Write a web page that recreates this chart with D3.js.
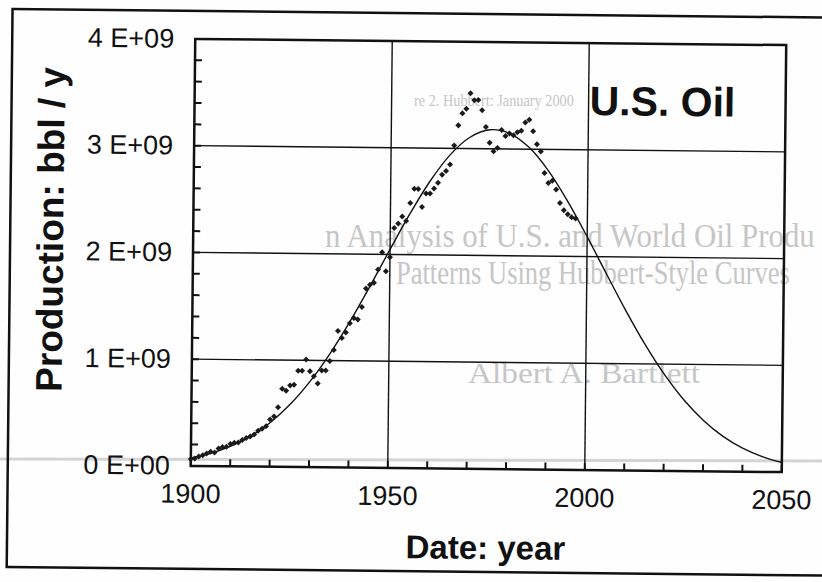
<!DOCTYPE html>
<html>
<head>
<meta charset="utf-8">
<script src="https://cdn.jsdelivr.net/npm/d3@7"></script>
<style>
  body { margin: 0; background: #fff; }
  svg { display: block; }
</style>
</head>
<body>
<div id="chart"></div>
<script>
// production, bbl per year (in billions), one value per year from firstYear
const firstYear = 1900;
const production = [
  0.064, 0.069, 0.089, 0.101, 0.117, 0.135, 0.127, 0.166, 0.179, 0.183,
  0.210, 0.220, 0.223, 0.248, 0.266, 0.281, 0.301, 0.335, 0.356, 0.378,
  0.443, 0.472, 0.558, 0.732, 0.714, 0.764, 0.771, 0.901, 0.902, 1.007,
  0.898, 0.851, 0.785, 0.906, 0.908, 0.997, 1.100, 1.279, 1.214, 1.265,
  1.353, 1.402, 1.387, 1.506, 1.678, 1.714, 1.734, 1.857, 2.020, 1.842,
  1.974, 2.248, 2.290, 2.357, 2.315, 2.484, 2.617, 2.617, 2.449, 2.575,
  2.575, 2.622, 2.676, 2.753, 2.787, 2.849, 3.028, 3.216, 3.329, 3.372,
  3.518, 3.454, 3.455, 3.361, 3.203, 3.057, 2.976, 3.009, 3.178, 3.121,
  3.146, 3.129, 3.157, 3.171, 3.250, 3.275, 3.168, 3.047, 2.979, 2.779,
  2.685, 2.707, 2.625, 2.499, 2.432, 2.394, 2.366, 2.355
];

// fitted Hubbert-style curve, read every 5 years
const curveYears = [1900, 1905, 1910, 1915, 1920, 1925, 1930, 1935, 1940, 1945,
  1950, 1955, 1960, 1965, 1970, 1975, 1980, 1985, 1990, 1995,
  2000, 2005, 2010, 2015, 2020, 2025, 2030, 2035, 2040, 2045, 2050];
const curveValues = [0.074, 0.119, 0.186, 0.281, 0.412, 0.584, 0.801, 1.064, 1.367, 1.700,
  2.047, 2.386, 2.692, 2.939, 3.106, 3.178, 3.147, 3.017, 2.799, 2.513,
  2.185, 1.838, 1.497, 1.180, 0.901, 0.665, 0.476, 0.329, 0.220, 0.143, 0.090];

const xTickLabels = [1900, 1950, 2000, 2050];
const yTickLabels = ["0 E+00", "1 E+09", "2 E+09", "3 E+09", "4 E+09"];

const W = 822, H = 582;
const plot = {left: 193, right: 784, top: 42, bottom: 469};

const svg = d3.select("#chart").append("svg")
  .attr("width", W)
  .attr("height", H);

svg.append("rect").attr("width", W).attr("height", H).attr("fill", "#fefefe");

// faint print showing through from the page underneath (narrow serif)
const ghost = svg.append("g").attr("font-family", "Liberation Serif").attr("fill", "#c6c6c6");
function ghostText(txt, x0, y0, size, width) {
  const t = ghost.append("text").attr("font-size", size).text(txt);
  const k = width / t.node().getComputedTextLength();
  t.attr("transform", `translate(${x0},${y0}) scale(${k},1)`);
}
ghostText("n Analysis of U.S. and World Oil Produ", 325, 247, 33, 490);
ghostText("Patterns Using Hubbert-Style Curves", 396, 284, 33, 394);
ghostText("Albert A. Bartlett", 468, 383, 29, 232);
ghostText("re 2. Hubbert: January 2000", 414, 106, 17, 160);
svg.append("line").attr("x1", 0).attr("x2", W).attr("y1", 459).attr("y2", 461)
  .attr("stroke", "#d4d4d4").attr("stroke-width", 3);

// everything of the figure sits slightly tilted, as on the scanned page
const g = svg.append("g").attr("transform", "rotate(0.6, 488, 255)");

// outer frame
g.append("rect")
  .attr("x", 10).attr("y", 14)
  .attr("width", 840).attr("height", 558)
  .attr("fill", "none").attr("stroke", "#111").attr("stroke-width", 2.5);

const x = d3.scaleLinear().domain([1900, 2050]).range([plot.left, plot.right]);
const y = d3.scaleLinear().domain([0, 4e9]).range([plot.bottom, plot.top]);

// grid lines
g.append("g").selectAll("line")
  .data([1950, 2000]).join("line")
  .attr("x1", d => x(d)).attr("x2", d => x(d))
  .attr("y1", plot.top).attr("y2", plot.bottom)
  .attr("stroke", "#111").attr("stroke-width", 1.4);
g.append("g").selectAll("line")
  .data([1e9, 2e9, 3e9]).join("line")
  .attr("x1", plot.left).attr("x2", plot.right)
  .attr("y1", d => y(d)).attr("y2", d => y(d))
  .attr("stroke", "#111").attr("stroke-width", 1.4);

// inward minor ticks
g.append("g").selectAll("line")
  .data(d3.range(0, 4e9 + 1, 2e8)).join("line")
  .attr("x1", plot.left).attr("x2", plot.left + 7)
  .attr("y1", d => y(d)).attr("y2", d => y(d))
  .attr("stroke", "#111").attr("stroke-width", 2);
g.append("g").selectAll("line")
  .data(d3.range(1900, 2051, 10)).join("line")
  .attr("x1", d => x(d)).attr("x2", d => x(d))
  .attr("y1", plot.bottom).attr("y2", plot.bottom - 7)
  .attr("stroke", "#111").attr("stroke-width", 2);

// plot frame
g.append("rect")
  .attr("x", plot.left).attr("y", plot.top)
  .attr("width", plot.right - plot.left).attr("height", plot.bottom - plot.top)
  .attr("fill", "none").attr("stroke", "#111").attr("stroke-width", 2.5);

// tick labels
g.append("g").selectAll("text")
  .data(yTickLabels).join("text")
  .attr("x", 172)
  .attr("y", (d, i) => y(i * 1e9) + 9)
  .attr("text-anchor", "end")
  .style("font-family", "Liberation Sans")
  .style("font-size", "27px")
  .style("fill", "#111")
  .text(d => d);
g.append("g").selectAll("text")
  .data(xTickLabels).join("text")
  .attr("x", d => x(d))
  .attr("y", 506)
  .attr("text-anchor", "middle")
  .style("font-family", "Liberation Sans")
  .style("font-size", "27px")
  .style("fill", "#111")
  .text(d => d);

// axis titles
g.append("text")
  .attr("x", x(1975))
  .attr("y", 559)
  .attr("text-anchor", "middle")
  .style("font-family", "Liberation Sans")
  .style("font-weight", "bold")
  .style("font-size", "33px")
  .style("fill", "#111")
  .text("Date: year");
g.append("text")
  .attr("transform", "rotate(-90)")
  .attr("x", -234)
  .attr("y", 63)
  .attr("text-anchor", "middle")
  .style("font-family", "Liberation Sans")
  .style("font-weight", "bold")
  .style("font-size", "37px")
  .style("fill", "#111")
  .text("Production: bbl / y");

g.append("text")
  .attr("x", 588)
  .attr("y", 114)
  .style("font-family", "Liberation Sans")
  .style("font-weight", "bold")
  .style("font-size", "41px")
  .style("fill", "#111")
  .text("U.S. Oil");

// fitted curve
const line = d3.line()
  .x(d => x(d[0]))
  .y(d => y(d[1] * 1e9))
  .curve(d3.curveCatmullRom);
g.append("path")
  .datum(curveYears.map((yr, i) => [yr, curveValues[i]]))
  .attr("d", line)
  .attr("fill", "none")
  .attr("stroke", "#111")
  .attr("stroke-width", 1.4);

// data points
g.append("g").selectAll("path")
  .data(production).join("path")
  .attr("transform", (d, i) => `translate(${x(firstYear + i)},${y(d * 1e9)}) rotate(45)`)
  .attr("d", d3.symbol(d3.symbolSquare, 18))
  .attr("fill", "#1a1a1a");
</script>
</body>
</html>
